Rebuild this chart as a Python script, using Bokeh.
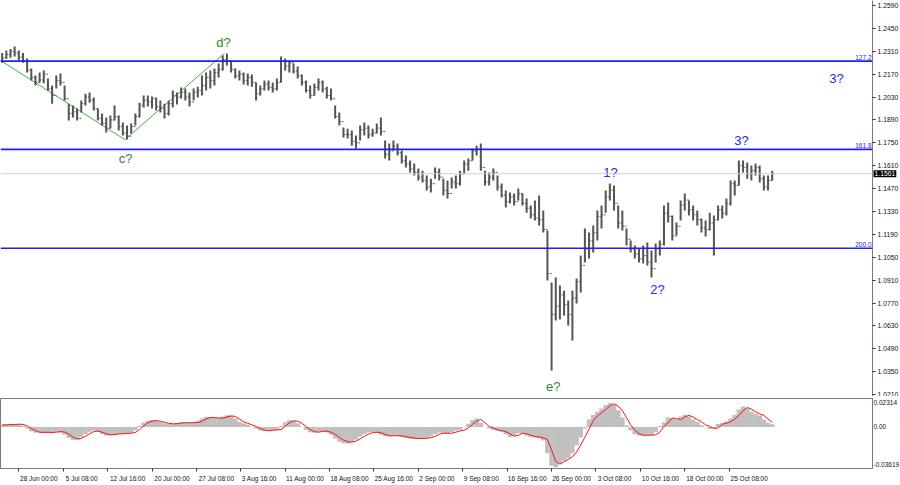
import numpy as np
from bokeh.plotting import figure
from bokeh.layouts import column
from bokeh.models import ColumnDataSource, FixedTicker, Span, Label, Range1d
from bokeh.core.properties import value
from bokeh.embed import file_html
from bokeh.resources import INLINE

FONT = "Liberation Sans"

# ---- data (12h bars, position in H4-bar units) ----
bar_pos = list(range(20, 576, 3))
highs = [
    1.2300, 1.2315, 1.2325, 1.2340, 1.2315, 1.2300, 1.2266, 1.2205, 1.2162, 1.2180,
    1.2192, 1.2143, 1.2101, 1.2162, 1.2174, 1.2101, 1.1990, 1.1978, 1.1960, 1.2009,
    1.2050, 1.2058, 1.2027, 1.1960, 1.1929, 1.1905, 1.1917, 1.1978, 1.1917, 1.1874,
    1.1856, 1.1868, 1.1929, 1.1996, 1.2039, 1.2039, 1.2033, 1.2027, 1.2009, 1.1990,
    1.2009, 1.2070, 1.2058, 1.2088, 1.2082, 1.2058, 1.2082, 1.2094, 1.2162, 1.2180,
    1.2192, 1.2205, 1.2235, 1.2284, 1.2296, 1.2254, 1.2205, 1.2192, 1.2180, 1.2174,
    1.2168, 1.2119, 1.2101, 1.2131, 1.2131, 1.2119, 1.2143, 1.2278, 1.2266, 1.2254,
    1.2235, 1.2217, 1.2168, 1.2131, 1.2101, 1.2113, 1.2143, 1.2131, 1.2094, 1.2082,
    1.1978, 1.1935, 1.1844, 1.1837, 1.1825, 1.1795, 1.1856, 1.1874, 1.1856, 1.1837,
    1.1868, 1.1905, 1.1764, 1.1746, 1.1764, 1.1746, 1.1703, 1.1672, 1.1642, 1.1623,
    1.1593, 1.1580, 1.1550, 1.1531, 1.1599, 1.1593, 1.1531, 1.1519, 1.1538, 1.1550,
    1.1580, 1.1642, 1.1654, 1.1715, 1.1733, 1.1746, 1.1580, 1.1568, 1.1593, 1.1550,
    1.1501, 1.1458, 1.1446, 1.1440, 1.1470, 1.1440, 1.1409, 1.1366, 1.1397, 1.1428,
    1.1336, 1.1213, 1.0895, 1.0926, 1.0877, 1.0846, 1.0785, 1.0846, 1.0920, 1.1060,
    1.1226, 1.1201, 1.1244, 1.1336, 1.1366, 1.1458, 1.1501, 1.1489, 1.1366, 1.1336,
    1.1226, 1.1152, 1.1122, 1.1103, 1.1122, 1.1140, 1.1091, 1.1134, 1.1152, 1.1366,
    1.1385, 1.1305, 1.1262, 1.1397, 1.1440, 1.1397, 1.1366, 1.1336, 1.1287, 1.1275,
    1.1323, 1.1305, 1.1366, 1.1366, 1.1409, 1.1519, 1.1519, 1.1642, 1.1642, 1.1630,
    1.1611, 1.1623, 1.1611, 1.1550, 1.1550, 1.1580,
]
lows = [
    1.2240, 1.2265, 1.2270, 1.2278, 1.2254, 1.2240, 1.2180, 1.2131, 1.2101, 1.2120,
    1.2115, 1.2070, 1.1990, 1.2082, 1.2101, 1.2009, 1.1886, 1.1905, 1.1886, 1.1935,
    1.1978, 1.1996, 1.1948, 1.1886, 1.1856, 1.1813, 1.1838, 1.1886, 1.1825, 1.1795,
    1.1770, 1.1807, 1.1856, 1.1905, 1.1966, 1.1972, 1.1960, 1.1948, 1.1935, 1.1899,
    1.1917, 1.1966, 1.1984, 1.2021, 1.2009, 1.1972, 1.2009, 1.2027, 1.2039, 1.2070,
    1.2082, 1.2101, 1.2150, 1.2192, 1.2223, 1.2180, 1.2143, 1.2131, 1.2107, 1.2101,
    1.2094, 1.2009, 1.2039, 1.2070, 1.2070, 1.2058, 1.2070, 1.2119, 1.2192, 1.2180,
    1.2174, 1.2143, 1.2101, 1.2058, 1.2021, 1.2039, 1.2070, 1.2058, 1.2021, 1.2009,
    1.1899, 1.1856, 1.1782, 1.1776, 1.1733, 1.1715, 1.1764, 1.1795, 1.1776, 1.1788,
    1.1807, 1.1795, 1.1654, 1.1642, 1.1703, 1.1672, 1.1623, 1.1599, 1.1568, 1.1550,
    1.1519, 1.1507, 1.1458, 1.1446, 1.1531, 1.1519, 1.1428, 1.1409, 1.1470, 1.1470,
    1.1489, 1.1562, 1.1580, 1.1642, 1.1672, 1.1580, 1.1489, 1.1489, 1.1519, 1.1458,
    1.1416, 1.1354, 1.1379, 1.1366, 1.1397, 1.1366, 1.1323, 1.1287, 1.1275, 1.1244,
    1.1201, 1.0908, 1.0357, 1.0663, 1.0670, 1.0693, 1.0632, 1.0540, 1.0767, 1.0834,
    1.1018, 1.1042, 1.1079, 1.1152, 1.1226, 1.1323, 1.1397, 1.1336, 1.1226, 1.1213,
    1.1122, 1.1079, 1.1042, 1.1018, 1.1012, 1.0999, 1.0926, 1.1018, 1.1060, 1.1122,
    1.1262, 1.1152, 1.1183, 1.1275, 1.1336, 1.1305, 1.1275, 1.1244, 1.1201, 1.1177,
    1.1213, 1.1060, 1.1275, 1.1287, 1.1305, 1.1366, 1.1428, 1.1489, 1.1568, 1.1531,
    1.1519, 1.1550, 1.1507, 1.1458, 1.1458, 1.1519,
]
closes = [
    1.2270, 1.2290, 1.2310, 1.2300, 1.2275, 1.2250, 1.2195, 1.2150, 1.2120, 1.2135,
    1.2170, 1.2080, 1.2040, 1.2130, 1.2120, 1.2020, 1.1930, 1.1940, 1.1900, 1.1990,
    1.2030, 1.2010, 1.1960, 1.1900, 1.1870, 1.1840, 1.1890, 1.1910, 1.1850, 1.1810,
    1.1790, 1.1850, 1.1910, 1.1980, 1.2010, 1.2000, 1.2020, 1.1970, 1.1960, 1.1930,
    1.1990, 1.2040, 1.2030, 1.2060, 1.2030, 1.2000, 1.2060, 1.2070, 1.2100, 1.2150,
    1.2130, 1.2180, 1.2200, 1.2260, 1.2250, 1.2200, 1.2160, 1.2170, 1.2130, 1.2150,
    1.2120, 1.2050, 1.2080, 1.2110, 1.2090, 1.2080, 1.2120, 1.2250, 1.2220, 1.2240,
    1.2190, 1.2160, 1.2120, 1.2070, 1.2040, 1.2090, 1.2120, 1.2080, 1.2040, 1.2020,
    1.1910, 1.1880, 1.1800, 1.1800, 1.1760, 1.1750, 1.1830, 1.1840, 1.1800, 1.1810,
    1.1840, 1.1820, 1.1680, 1.1700, 1.1730, 1.1690, 1.1640, 1.1620, 1.1590, 1.1570,
    1.1540, 1.1520, 1.1480, 1.1500, 1.1570, 1.1540, 1.1460, 1.1440, 1.1510, 1.1500,
    1.1560, 1.1620, 1.1640, 1.1700, 1.1710, 1.1600, 1.1510, 1.1540, 1.1570, 1.1480,
    1.1430, 1.1390, 1.1420, 1.1390, 1.1440, 1.1380, 1.1350, 1.1310, 1.1290, 1.1280,
    1.1220, 1.0950, 1.0700, 1.0750, 1.0820, 1.0760, 1.0700, 1.0800, 1.0900, 1.1000,
    1.1100, 1.1150, 1.1200, 1.1300, 1.1310, 1.1420, 1.1460, 1.1380, 1.1260, 1.1240,
    1.1160, 1.1100, 1.1070, 1.1040, 1.1060, 1.1020, 1.0980, 1.1100, 1.1130, 1.1320,
    1.1300, 1.1180, 1.1240, 1.1370, 1.1400, 1.1340, 1.1310, 1.1280, 1.1230, 1.1220,
    1.1260, 1.1280, 1.1340, 1.1320, 1.1380, 1.1500, 1.1490, 1.1610, 1.1600, 1.1560,
    1.1580, 1.1600, 1.1530, 1.1480, 1.1520, 1.1561,
]
first_open = 1.2255

# MACD main (histogram) and signal, in thousandths
macd_main_milli = [
    2.0, 2.3, 2.6, 2.8, 2.6, 1.2, -1.5, -4.0, -5.5, -5.8,
    -5.5, -5.8, -5.5, -4.8, -5.2, -7.5, -10.5, -12.5, -12.0, -9.5,
    -6.8, -4.5, -3.5, -4.5, -6.8, -8.2, -8.0, -7.2, -6.8, -6.5,
    -6.2, -5.5, -2.8, 1.0, 4.2, 6.0, 6.5, 6.0, 4.8, 3.6,
    3.0, 2.8, 3.8, 4.2, 4.0, 4.0, 4.4, 6.0, 8.0, 9.8,
    9.5, 8.8, 8.6, 9.8, 11.2, 10.8, 8.0, 5.0, 3.5, 2.0,
    0.2, -1.8, -3.5, -4.0, -3.5, -3.0, -2.6, 1.0, 4.5, 6.5,
    6.0, 3.5, 0.2, -3.0, -5.0, -5.4, -4.5, -4.0, -5.2, -7.5,
    -11.0, -14.0, -15.5, -16.0, -14.5, -12.0, -9.0, -6.8, -5.2, -4.8,
    -5.8, -7.5, -8.8, -9.0, -8.5, -8.8, -9.6, -10.5, -11.2, -11.5,
    -11.4, -11.0, -10.5, -9.0, -6.8, -5.6, -5.8, -6.0, -5.0, -3.6,
    -3.0, -0.5, 3.0, 6.5, 8.0, 4.0, 0.0, -1.5, -2.8, -3.8,
    -4.8, -7.0, -9.5, -8.5, -6.0, -6.8, -8.5, -9.5, -10.0, -11.0,
    -13.0, -25.0, -37.0, -38.5, -35.0, -32.0, -29.5, -25.0, -17.5, -10.0,
    -1.5, 7.0, 11.5, 14.5, 17.5, 21.0, 23.0, 21.0, 16.0, 9.0,
    1.5, -3.5, -7.0, -8.2, -8.4, -8.0, -7.8, -5.0, 1.0, 4.5,
    9.0, 8.5, 7.2, 10.0, 11.5, 10.0, 7.0, 4.8, 1.5, 0.0,
    -2.0, -1.2, 2.8, 4.0, 5.5, 8.0, 11.5, 16.5, 19.5, 17.5,
    14.5, 12.5, 11.0, 7.0, 4.0, 2.5,
]
macd_signal_milli = [
    1.8, 2.0, 2.2, 2.4, 2.6, 2.5, 1.0, -1.5, -3.5, -5.0,
    -5.2, -5.0, -5.3, -5.0, -4.5, -4.8, -7.0, -9.5, -11.5, -11.0,
    -9.0, -6.5, -4.5, -3.8, -5.0, -6.5, -7.6, -7.2, -6.8, -6.5,
    -6.3, -6.0, -5.2, -2.5, 1.0, 3.8, 5.5, 6.0, 5.5, 4.5,
    3.5, 3.0, 3.0, 3.8, 4.0, 4.0, 4.0, 4.2, 5.5, 7.5,
    9.0, 9.0, 8.5, 8.5, 9.5, 10.5, 10.0, 7.5, 5.0, 3.5,
    2.0, 0.5, -1.5, -3.0, -3.6, -3.2, -2.8, -2.5, 0.5, 4.0,
    5.8, 5.5, 3.5, 0.5, -2.5, -4.5, -5.0, -4.2, -4.0, -5.0,
    -7.0, -10.0, -12.5, -14.0, -14.5, -13.5, -11.5, -9.0, -7.0, -5.5,
    -5.0, -5.5, -7.0, -8.3, -8.5, -8.2, -8.5, -9.2, -10.0, -10.6,
    -11.0, -11.0, -10.8, -10.3, -9.0, -7.0, -6.0, -6.0, -6.0, -5.0,
    -3.8, -3.2, -1.0, 2.5, 5.5, 7.2, 4.0, 0.5, -1.0, -2.5,
    -3.5, -4.5, -6.5, -8.8, -8.0, -6.0, -6.5, -8.0, -9.0, -9.5,
    -10.5, -12.0, -22.0, -33.0, -35.5, -33.0, -31.0, -28.5, -24.0, -17.0,
    -10.0, -2.0, 6.0, 10.5, 13.5, 16.5, 20.0, 22.0, 20.0, 15.5,
    9.0, 2.0, -3.0, -6.5, -7.8, -8.0, -7.8, -7.5, -5.0, 0.5,
    4.0, 8.5, 8.0, 7.0, 9.5, 11.0, 9.5, 7.0, 5.0, 2.0,
    0.5, -1.5, -1.0, 2.5, 3.5, 5.0, 7.5, 11.0, 15.5, 18.5,
    17.0, 14.5, 12.5, 11.0, 7.5, 4.5,
]

price_ticks = [1.0210, 1.0350, 1.0490, 1.0630, 1.0770, 1.0910, 1.1050, 1.1190, 1.1330,
               1.1470, 1.1610, 1.1750, 1.1890, 1.2030, 1.2170, 1.2310, 1.2450, 1.2590]
time_tick_pos = [32, 64, 96, 128, 160, 192, 224, 256, 288, 320, 352, 384, 416, 448, 480, 512, 544]
time_tick_labels = ["28 Jun 00:00", "5 Jul 08:00", "12 Jul 16:00", "20 Jul 00:00", "27 Jul 08:00",
                    "3 Aug 16:00", "11 Aug 00:00", "18 Aug 08:00", "25 Aug 16:00", "2 Sep 00:00",
                    "9 Sep 08:00", "16 Sep 16:00", "26 Sep 00:00", "3 Oct 08:00", "10 Oct 16:00",
                    "18 Oct 00:00", "25 Oct 08:00"]
levels = [1.2250, 1.1710, 1.1105]
level_names = ["127.2", "161.8", "200.0"]
last_price = 1.1561
wave_green_pos = [18.8, 108.4, 180.3]
wave_green_price = [1.2254, 1.1770, 1.2298]
wave_text = ["d?", "c?", "e?", "1?", "2?", "3?", "3?"]
wave_pos = [179.5, 108.9, 417.2, 458.5, 492.4, 552.9, 621.4]
wave_price = [1.2364, 1.1654, 1.0259, 1.1568, 1.0853, 1.1764, 1.2143]
wave_color = ["#2e8b2e", "#2e8b2e", "#2e8b2e", "#2a2ae8", "#2a2ae8", "#2a2ae8", "#2a2ae8"]
macd_ticks = [-0.03619, 0.0, 0.02314]
macd_tick_labels = ["-0.03619", "0.00", "0.02314"]

X_START, X_END = 18.8, 647.3
BAR = "#555555"
AXIS = "#7a7a7a"
FW = 872
PX_PER_UNIT = FW / (X_END - X_START)

pos = np.array(bar_pos, dtype=float)
closes_a = np.array(closes)
opens_a = np.r_[first_open, closes_a[:-1]]
xr = Range1d(X_START, X_END)

# ---- main price panel ----
p = figure(frame_width=FW, frame_height=396, x_range=xr, y_range=Range1d(1.0198, 1.2621),
           y_axis_location="right", output_backend="svg", toolbar_location=None,
           min_border_left=0, min_border_top=0, min_border_bottom=0, min_border_right=0)
p.outline_line_color = None
p.grid.visible = False
p.background_fill_color = "white"

p.xaxis.ticker = FixedTicker(ticks=[])
p.xaxis.axis_line_color = AXIS
p.xaxis.major_tick_out = 0
p.xaxis.major_tick_in = 0
p.xaxis.minor_tick_out = 0
p.xaxis.minor_tick_in = 0
p.xaxis.major_label_standoff = 0
p.xaxis.major_label_text_font_size = "0px"

p.yaxis.ticker = FixedTicker(ticks=price_ticks)
p.yaxis.major_label_overrides = {t: f"{t:.4f}" for t in price_ticks}
p.yaxis.axis_line_color = AXIS
p.yaxis.major_tick_out = 3
p.yaxis.major_tick_in = 0
p.yaxis.minor_tick_out = 0
p.yaxis.minor_tick_in = 0
p.yaxis.major_tick_line_color = "#333333"
p.yaxis.major_label_standoff = 2
p.yaxis.major_label_text_font = FONT
p.yaxis.major_label_text_font_size = "6.8px"
p.yaxis.major_label_text_color = "#111111"

p.add_layout(Span(location=last_price, dimension="width", line_color="#cfcfcf", line_width=1))
for lv in levels:
    p.add_layout(Span(location=lv, dimension="width", line_color="#2020ee", line_width=1.6))

p.line(wave_green_pos, wave_green_price, line_color="#3cb43c", line_width=1)

p.segment(x0=pos, y0=lows, x1=pos, y1=highs, line_color=BAR, line_width=2)
p.segment(x0=pos - 1.2, y0=opens_a, x1=pos, y1=opens_a, line_color=BAR, line_width=1)
p.segment(x0=pos, y0=closes_a, x1=pos + 1.2, y1=closes_a, line_color=BAR, line_width=1)

lvl_src = ColumnDataSource(dict(x=[X_END] * len(levels), y=levels, t=level_names))
p.text(x="x", y="y", text="t", source=lvl_src, text_align="right", text_baseline="bottom",
       x_offset=-1, y_offset=-1, text_color="#2020ee", text_font=value(FONT), text_font_size="6.5px")

wsrc = ColumnDataSource(dict(x=wave_pos, y=wave_price, t=wave_text, c=wave_color))
p.text(x="x", y="y", text="t", source=wsrc, text_color="c", text_align="center",
       text_baseline="middle", text_font=value(FONT), text_font_size="13px")

# current-price marker on the price scale (in a side panel so it is not clipped to the frame)
marker_kw = dict(x=FW + 1, x_units="canvas", y=last_price, y_units="data",
                 text=f"{last_price:.4f}", text_align="left", text_baseline="middle",
                 text_color="white", background_fill_color="black",
                 text_font=FONT, text_font_size="6.8px")
try:
    marker = Label(padding=1, **marker_kw)
except Exception:
    marker = Label(**marker_kw)
p.add_layout(marker, "right")

# ---- MACD panel ----
q = figure(frame_width=FW, frame_height=70, x_range=xr, y_range=Range1d(-0.0396, 0.0271),
           y_axis_location="right", output_backend="svg", toolbar_location=None,
           min_border_left=0, min_border_top=2, min_border_bottom=0, min_border_right=0)
q.outline_line_color = AXIS
q.grid.visible = False

macd_main = np.array(macd_main_milli) / 1000.0
macd_signal = np.array(macd_signal_milli) / 1000.0
q.vbar(x=pos, top=macd_main, bottom=0, width=3.3, fill_color="#c0c0c0", line_color=None)
q.line(pos, macd_signal, line_color="#ff1010", line_width=1)

q.yaxis.ticker = FixedTicker(ticks=macd_ticks)
q.yaxis.major_label_overrides = dict(zip(macd_ticks, macd_tick_labels))
q.yaxis.axis_line_color = AXIS
q.yaxis.major_tick_out = 0
q.yaxis.major_tick_in = 0
q.yaxis.minor_tick_out = 0
q.yaxis.minor_tick_in = 0
q.yaxis.major_label_standoff = 1
q.yaxis.major_label_text_font = FONT
q.yaxis.major_label_text_font_size = "6.5px"
q.yaxis.major_label_text_color = "#111111"

# MT4 draws each time label starting at its tick: shift label anchors by half their width
label_shift = [(len(t) * 3.0 / 2 + 2) / PX_PER_UNIT for t in time_tick_labels]
label_anchor = [tp + s for tp, s in zip(time_tick_pos, label_shift)]
q.xaxis.ticker = FixedTicker(ticks=label_anchor, minor_ticks=time_tick_pos)
q.xaxis.major_label_overrides = dict(zip(label_anchor, time_tick_labels))
q.xaxis.axis_line_color = AXIS
q.xaxis.major_tick_out = 0
q.xaxis.major_tick_in = 0
q.xaxis.minor_tick_out = 3
q.xaxis.minor_tick_in = 0
q.xaxis.minor_tick_line_color = "#333333"
q.xaxis.major_label_standoff = 3
q.xaxis.major_label_text_font = FONT
q.xaxis.major_label_text_font_size = "6.5px"
q.xaxis.major_label_text_color = "#111111"

layout = column(p, q, spacing=0)
open("out.html", "w").write(file_html(layout, INLINE))
